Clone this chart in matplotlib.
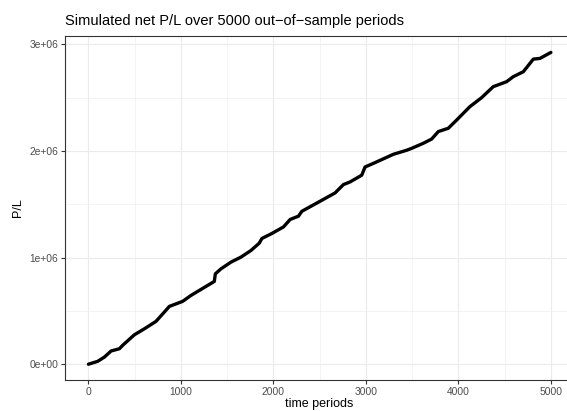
import matplotlib.pyplot as plt
from matplotlib.ticker import MultipleLocator, FixedLocator

# values
periods = [0, 100, 173, 245, 335, 370, 497, 605, 731, 821, 875, 1018, 1109,
           1253, 1361, 1372, 1433, 1541, 1649, 1757, 1847, 1876, 1984, 2109,
           2181, 2271, 2308, 2505, 2667, 2757, 2829, 2955, 2991, 3099, 3297,
           3441, 3495, 3620, 3711, 3783, 3891, 3981, 4125, 4251, 4377, 4522,
           4594, 4702, 4810, 4882, 5000]
pnl = [0, 27e3, 67e3, 124e3, 145e3, 177e3, 276e3, 332e3, 402e3, 489e3, 542e3,
       589e3, 645e3, 720e3, 776e3, 847e3, 894e3, 957e3, 1.004e6, 1.066e6,
       1.135e6, 1.179e6, 1.226e6, 1.287e6, 1.357e6, 1.388e6, 1.434e6, 1.528e6,
       1.606e6, 1.684e6, 1.709e6, 1.772e6, 1.849e6, 1.890e6, 1.968e6, 2.006e6,
       2.024e6, 2.071e6, 2.111e6, 2.181e6, 2.212e6, 2.289e6, 2.415e6, 2.499e6,
       2.602e6, 2.649e6, 2.696e6, 2.742e6, 2.860e6, 2.867e6, 2.923e6]
x_ticks = [0, 1000, 2000, 3000, 4000, 5000]
y_ticks = [0, 1e6, 2e6, 3e6]
y_labels = ['0e+00', '1e+06', '2e+06', '3e+06']

plt.rcParams['font.family'] = ['Liberation Sans', 'DejaVu Sans']

fig = plt.figure(figsize=(5.67, 4.11), dpi=100)
ax = fig.add_axes([65.3 / 567, 1 - 380 / 411, (574 - 65.3) / 567, (380 - 36) / 411])

ax.plot(periods, pnl, color='black', linewidth=2.4, solid_capstyle='round',
        solid_joinstyle='round', zorder=3)

ax.set_xlim(-250, 5250)
ax.set_ylim(-148000, 3077000)

ax.xaxis.set_major_locator(FixedLocator(x_ticks))
ax.xaxis.set_minor_locator(MultipleLocator(500))
ax.yaxis.set_major_locator(FixedLocator(y_ticks))
ax.yaxis.set_minor_locator(MultipleLocator(5e5))
ax.set_yticklabels(y_labels)

ax.grid(which='major', color='#EBEBEB', linewidth=0.8)
ax.grid(which='minor', color='#EBEBEB', linewidth=0.4)
ax.set_axisbelow(True)

for s in ax.spines.values():
    s.set_color('#333333')
    s.set_linewidth(0.8)

ax.tick_params(which='major', length=3, width=0.8, color='#333333',
               labelcolor='#4D4D4D', labelsize=7.4, pad=2)
ax.tick_params(which='minor', length=0)

ax.set_xlabel('time periods', fontsize=9, labelpad=1)
ax.set_ylabel('P/L', fontsize=9, labelpad=4)
ax.set_title('Simulated net P/L over 5000 out\u2212of\u2212sample periods',
             fontsize=10.5, loc='left', pad=8)

fig.savefig('out.png', dpi=100)
